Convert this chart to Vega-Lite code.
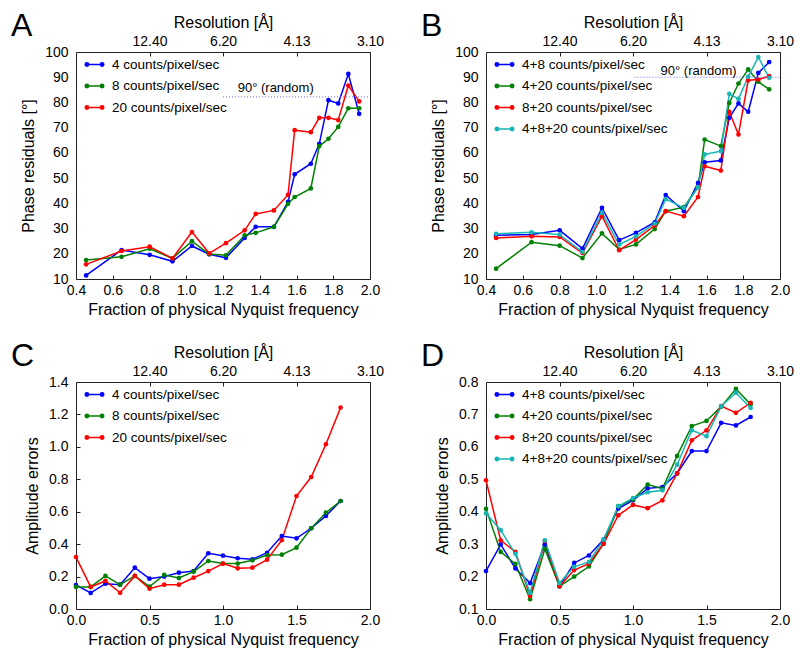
{
  "$schema": "https://vega.github.io/schema/vega-lite/v6.json",
  "padding": {"left": 10, "top": 9, "right": 5, "bottom": 5},
  "background": "white",
  "config": {
    "font": "Liberation Sans",
    "view": {"stroke": "#222", "strokeWidth": 1},
    "axis": {"grid": false, "domain": false, "labelFont": "Liberation Sans", "labelFontSize": 14, "labelColor": "#000", "titleFont": "Liberation Sans", "titleFontSize": 16, "titleFontWeight": "normal", "titleColor": "#000", "tickColor": "#222", "tickSize": -4, "labelPadding": 8, "labelFlush": false, "labelOverlap": false, "titlePadding": 4},
    "axisY": {"ticks": false, "labelPadding": 8, "titlePadding": 8},
    "legend": {"orient": "top-left", "offset": 2, "symbolOffset": 6, "padding": 0, "labelFont": "Liberation Sans", "labelFontSize": 13.5, "labelColor": "#000", "symbolSize": 361, "symbolStrokeWidth": 1.5, "rowPadding": 4.5, "labelOffset": 7, "symbolType": "M-1,0L1,0M-0.98,0A0.18,0.18,0,1,0,-0.62,0A0.18,0.18,0,1,0,-0.98,0ZM0.62,0A0.18,0.18,0,1,0,0.98,0A0.18,0.18,0,1,0,0.62,0Z"},
    "title": {"fontSize": 32, "fontWeight": "normal", "anchor": "start", "frame": "group", "dx": -65, "dy": 33, "offset": 0, "color": "#000", "font": "Liberation Sans"}
  },
  "resolve": {"scale": {"color": "independent"}, "legend": {"color": "independent"}},
  "datasets": {
    "A": [
      {"x": 0.455, "4 counts/pixel/sec": 11.4, "8 counts/pixel/sec": 17.5, "20 counts/pixel/sec": 15.8},
      {"x": 0.648, "4 counts/pixel/sec": 21.5, "8 counts/pixel/sec": 18.8, "20 counts/pixel/sec": 21.1},
      {"x": 0.801, "4 counts/pixel/sec": 19.6, "8 counts/pixel/sec": 22.0, "20 counts/pixel/sec": 22.8},
      {"x": 0.925, "4 counts/pixel/sec": 17.0, "8 counts/pixel/sec": 18.2, "20 counts/pixel/sec": 18.2},
      {"x": 1.031, "4 counts/pixel/sec": 23.1, "8 counts/pixel/sec": 25.0, "20 counts/pixel/sec": 28.6},
      {"x": 1.125, "4 counts/pixel/sec": 19.8, "8 counts/pixel/sec": 19.9, "20 counts/pixel/sec": 20.2},
      {"x": 1.216, "4 counts/pixel/sec": 18.4, "8 counts/pixel/sec": 19.4, "20 counts/pixel/sec": 24.2},
      {"x": 1.318, "4 counts/pixel/sec": 26.3, "8 counts/pixel/sec": 27.3, "20 counts/pixel/sec": 29.3},
      {"x": 1.378, "4 counts/pixel/sec": 30.7, "8 counts/pixel/sec": 28.3, "20 counts/pixel/sec": 35.8},
      {"x": 1.477, "4 counts/pixel/sec": 30.7, "8 counts/pixel/sec": 30.7, "20 counts/pixel/sec": 37.2},
      {"x": 1.554, "4 counts/pixel/sec": 40.6, "8 counts/pixel/sec": 39.8, "20 counts/pixel/sec": 43.4},
      {"x": 1.59, "4 counts/pixel/sec": 51.5, "8 counts/pixel/sec": 42.5, "20 counts/pixel/sec": 69.0},
      {"x": 1.678, "4 counts/pixel/sec": 55.7, "8 counts/pixel/sec": 45.9, "20 counts/pixel/sec": 68.2},
      {"x": 1.724, "4 counts/pixel/sec": 63.6, "8 counts/pixel/sec": 62.7, "20 counts/pixel/sec": 73.9},
      {"x": 1.774, "4 counts/pixel/sec": 80.9, "8 counts/pixel/sec": 65.6, "20 counts/pixel/sec": 73.9},
      {"x": 1.827, "4 counts/pixel/sec": 79.6, "8 counts/pixel/sec": 70.3, "20 counts/pixel/sec": 73.0},
      {"x": 1.882, "4 counts/pixel/sec": 91.3, "8 counts/pixel/sec": 77.7, "20 counts/pixel/sec": 86.7},
      {"x": 1.941, "4 counts/pixel/sec": 75.5, "8 counts/pixel/sec": 77.7, "20 counts/pixel/sec": 80.4}
    ],
    "B": [
      {"x": 0.455, "4+8 counts/pixel/sec": 27.3, "4+20 counts/pixel/sec": 14.1, "8+20 counts/pixel/sec": 26.3, "4+8+20 counts/pixel/sec": 27.9},
      {"x": 0.648, "4+8 counts/pixel/sec": 27.6, "4+20 counts/pixel/sec": 24.6, "8+20 counts/pixel/sec": 26.9, "4+8+20 counts/pixel/sec": 28.5},
      {"x": 0.801, "4+8 counts/pixel/sec": 29.3, "4+20 counts/pixel/sec": 23.2, "8+20 counts/pixel/sec": 26.7, "4+8+20 counts/pixel/sec": 27.6},
      {"x": 0.925, "4+8 counts/pixel/sec": 22.1, "4+20 counts/pixel/sec": 18.3, "8+20 counts/pixel/sec": 20.3, "4+8+20 counts/pixel/sec": 20.7},
      {"x": 1.031, "4+8 counts/pixel/sec": 38.2, "4+20 counts/pixel/sec": 28.1, "8+20 counts/pixel/sec": 34.9, "4+8+20 counts/pixel/sec": 36.2},
      {"x": 1.125, "4+8 counts/pixel/sec": 25.4, "4+20 counts/pixel/sec": 21.7, "8+20 counts/pixel/sec": 21.4, "4+8+20 counts/pixel/sec": 23.7},
      {"x": 1.216, "4+8 counts/pixel/sec": 28.3, "4+20 counts/pixel/sec": 23.7, "8+20 counts/pixel/sec": 25.6, "4+8+20 counts/pixel/sec": 26.9},
      {"x": 1.318, "4+8 counts/pixel/sec": 32.5, "4+20 counts/pixel/sec": 29.8, "8+20 counts/pixel/sec": 31.2, "4+8+20 counts/pixel/sec": 32.0},
      {"x": 1.378, "4+8 counts/pixel/sec": 43.3, "4+20 counts/pixel/sec": 36.9, "8+20 counts/pixel/sec": 36.9, "4+8+20 counts/pixel/sec": 41.7},
      {"x": 1.477, "4+8 counts/pixel/sec": 36.9, "4+20 counts/pixel/sec": 38.5, "8+20 counts/pixel/sec": 34.9, "4+8+20 counts/pixel/sec": 38.2},
      {"x": 1.554, "4+8 counts/pixel/sec": 48.1, "4+20 counts/pixel/sec": 46.4, "8+20 counts/pixel/sec": 42.5, "4+8+20 counts/pixel/sec": 46.4},
      {"x": 1.59, "4+8 counts/pixel/sec": 56.3, "4+20 counts/pixel/sec": 65.3, "8+20 counts/pixel/sec": 54.7, "4+8+20 counts/pixel/sec": 59.4},
      {"x": 1.678, "4+8 counts/pixel/sec": 57.0, "4+20 counts/pixel/sec": 62.7, "8+20 counts/pixel/sec": 53.0, "4+8+20 counts/pixel/sec": 60.7},
      {"x": 1.724, "4+8 counts/pixel/sec": 73.9, "4+20 counts/pixel/sec": 79.8, "8+20 counts/pixel/sec": 76.3, "4+8+20 counts/pixel/sec": 83.4},
      {"x": 1.774, "4+8 counts/pixel/sec": 79.6, "4+20 counts/pixel/sec": 87.5, "8+20 counts/pixel/sec": 67.3, "4+8+20 counts/pixel/sec": 81.4},
      {"x": 1.827, "4+8 counts/pixel/sec": 76.3, "4+20 counts/pixel/sec": 93.1, "8+20 counts/pixel/sec": 88.8, "4+8+20 counts/pixel/sec": 90.2},
      {"x": 1.882, "4+8 counts/pixel/sec": 91.7, "4+20 counts/pixel/sec": 88.2, "8+20 counts/pixel/sec": 89.1, "4+8+20 counts/pixel/sec": 98.0},
      {"x": 1.941, "4+8 counts/pixel/sec": 96.0, "4+20 counts/pixel/sec": 85.2, "8+20 counts/pixel/sec": 90.4, "4+8+20 counts/pixel/sec": 89.8}
    ],
    "C": [
      {"x": 0.0, "4 counts/pixel/sec": 0.148, "8 counts/pixel/sec": 0.136, "20 counts/pixel/sec": 0.32},
      {"x": 0.1, "4 counts/pixel/sec": 0.099, "8 counts/pixel/sec": 0.136, "20 counts/pixel/sec": 0.136},
      {"x": 0.2, "4 counts/pixel/sec": 0.156, "8 counts/pixel/sec": 0.204, "20 counts/pixel/sec": 0.173},
      {"x": 0.3, "4 counts/pixel/sec": 0.150, "8 counts/pixel/sec": 0.150, "20 counts/pixel/sec": 0.100},
      {"x": 0.4, "4 counts/pixel/sec": 0.255, "8 counts/pixel/sec": 0.204, "20 counts/pixel/sec": 0.204},
      {"x": 0.5, "4 counts/pixel/sec": 0.187, "8 counts/pixel/sec": 0.138, "20 counts/pixel/sec": 0.125},
      {"x": 0.6, "4 counts/pixel/sec": 0.200, "8 counts/pixel/sec": 0.210, "20 counts/pixel/sec": 0.150},
      {"x": 0.7, "4 counts/pixel/sec": 0.224, "8 counts/pixel/sec": 0.191, "20 counts/pixel/sec": 0.150},
      {"x": 0.8, "4 counts/pixel/sec": 0.234, "8 counts/pixel/sec": 0.230, "20 counts/pixel/sec": 0.193},
      {"x": 0.9, "4 counts/pixel/sec": 0.344, "8 counts/pixel/sec": 0.296, "20 counts/pixel/sec": 0.234},
      {"x": 1.0, "4 counts/pixel/sec": 0.329, "8 counts/pixel/sec": 0.280, "20 counts/pixel/sec": 0.280},
      {"x": 1.1, "4 counts/pixel/sec": 0.313, "8 counts/pixel/sec": 0.280, "20 counts/pixel/sec": 0.251},
      {"x": 1.2, "4 counts/pixel/sec": 0.307, "8 counts/pixel/sec": 0.300, "20 counts/pixel/sec": 0.255},
      {"x": 1.3, "4 counts/pixel/sec": 0.347, "8 counts/pixel/sec": 0.333, "20 counts/pixel/sec": 0.304},
      {"x": 1.4, "4 counts/pixel/sec": 0.450, "8 counts/pixel/sec": 0.335, "20 counts/pixel/sec": 0.424},
      {"x": 1.5, "4 counts/pixel/sec": 0.436, "8 counts/pixel/sec": 0.378, "20 counts/pixel/sec": 0.697},
      {"x": 1.6, "4 counts/pixel/sec": 0.498, "8 counts/pixel/sec": 0.498, "20 counts/pixel/sec": 0.814},
      {"x": 1.7, "4 counts/pixel/sec": 0.574, "8 counts/pixel/sec": 0.594, "20 counts/pixel/sec": 1.016},
      {"x": 1.8, "4 counts/pixel/sec": 0.666, "8 counts/pixel/sec": 0.666, "20 counts/pixel/sec": 1.242}
    ],
    "D": [
      {"x": 0.0, "4+8 counts/pixel/sec": 0.217, "4+20 counts/pixel/sec": 0.409, "8+20 counts/pixel/sec": 0.497, "4+8+20 counts/pixel/sec": 0.395},
      {"x": 0.1, "4+8 counts/pixel/sec": 0.299, "4+20 counts/pixel/sec": 0.276, "8+20 counts/pixel/sec": 0.312, "4+8+20 counts/pixel/sec": 0.343},
      {"x": 0.2, "4+8 counts/pixel/sec": 0.225, "4+20 counts/pixel/sec": 0.239, "8+20 counts/pixel/sec": 0.276, "4+8+20 counts/pixel/sec": 0.270},
      {"x": 0.3, "4+8 counts/pixel/sec": 0.180, "4+20 counts/pixel/sec": 0.130, "8+20 counts/pixel/sec": 0.140, "4+8+20 counts/pixel/sec": 0.150},
      {"x": 0.4, "4+8 counts/pixel/sec": 0.299, "4+20 counts/pixel/sec": 0.285, "8+20 counts/pixel/sec": 0.310, "4+8+20 counts/pixel/sec": 0.312},
      {"x": 0.5, "4+8 counts/pixel/sec": 0.170, "4+20 counts/pixel/sec": 0.170, "8+20 counts/pixel/sec": 0.170, "4+8+20 counts/pixel/sec": 0.180},
      {"x": 0.6, "4+8 counts/pixel/sec": 0.242, "4+20 counts/pixel/sec": 0.200, "8+20 counts/pixel/sec": 0.220, "4+8+20 counts/pixel/sec": 0.230},
      {"x": 0.7, "4+8 counts/pixel/sec": 0.265, "4+20 counts/pixel/sec": 0.231, "8+20 counts/pixel/sec": 0.240, "4+8+20 counts/pixel/sec": 0.245},
      {"x": 0.8, "4+8 counts/pixel/sec": 0.314, "4+20 counts/pixel/sec": 0.302, "8+20 counts/pixel/sec": 0.301, "4+8+20 counts/pixel/sec": 0.314},
      {"x": 0.9, "4+8 counts/pixel/sec": 0.410, "4+20 counts/pixel/sec": 0.417, "8+20 counts/pixel/sec": 0.389, "4+8+20 counts/pixel/sec": 0.417},
      {"x": 1.0, "4+8 counts/pixel/sec": 0.435, "4+20 counts/pixel/sec": 0.438, "8+20 counts/pixel/sec": 0.421, "4+8+20 counts/pixel/sec": 0.442},
      {"x": 1.1, "4+8 counts/pixel/sec": 0.472, "4+20 counts/pixel/sec": 0.484, "8+20 counts/pixel/sec": 0.411, "4+8+20 counts/pixel/sec": 0.460},
      {"x": 1.2, "4+8 counts/pixel/sec": 0.476, "4+20 counts/pixel/sec": 0.471, "8+20 counts/pixel/sec": 0.435, "4+8+20 counts/pixel/sec": 0.466},
      {"x": 1.3, "4+8 counts/pixel/sec": 0.518, "4+20 counts/pixel/sec": 0.572, "8+20 counts/pixel/sec": 0.518, "4+8+20 counts/pixel/sec": 0.545},
      {"x": 1.4, "4+8 counts/pixel/sec": 0.587, "4+20 counts/pixel/sec": 0.664, "8+20 counts/pixel/sec": 0.620, "4+8+20 counts/pixel/sec": 0.651},
      {"x": 1.5, "4+8 counts/pixel/sec": 0.587, "4+20 counts/pixel/sec": 0.680, "8+20 counts/pixel/sec": 0.651, "4+8+20 counts/pixel/sec": 0.633},
      {"x": 1.6, "4+8 counts/pixel/sec": 0.674, "4+20 counts/pixel/sec": 0.724, "8+20 counts/pixel/sec": 0.726, "4+8+20 counts/pixel/sec": 0.725},
      {"x": 1.7, "4+8 counts/pixel/sec": 0.666, "4+20 counts/pixel/sec": 0.779, "8+20 counts/pixel/sec": 0.705, "4+8+20 counts/pixel/sec": 0.767},
      {"x": 1.8, "4+8 counts/pixel/sec": 0.692, "4+20 counts/pixel/sec": 0.731, "8+20 counts/pixel/sec": 0.736, "4+8+20 counts/pixel/sec": 0.720}
    ]
  },
  "columns": 2,
  "spacing": {"row": 103, "column": 116},
  "bounds": "flush",
  "concat": [
    {
      "width": 294, "height": 227,
      "title": {"text": "A"},
      "resolve": {"scale": {"x": "independent"}, "axis": {"x": "independent"}},
      "layer": [
        {
          "layer": [
            {
              "data": {"name": "A"},
              "transform": [{"fold": ["4 counts/pixel/sec", "8 counts/pixel/sec", "20 counts/pixel/sec"], "as": ["s", "v"]}],
              "mark": {"type": "line", "strokeWidth": 1.5, "point": {"filled": true, "size": 22}},
              "encoding": {
                "x": {"field": "x", "type": "quantitative", "scale": {"domain": [0.4, 2.0], "nice": false, "zero": false}, "axis": {"values": [0.4, 0.6, 0.8, 1.0, 1.2, 1.4, 1.6, 1.8, 2.0], "format": ".1f", "labelOverlap": false, "title": "Fraction of physical Nyquist frequency"}},
                "y": {"field": "v", "type": "quantitative", "scale": {"domain": [10, 100], "nice": false, "zero": false}, "axis": {"values": [10, 20, 30, 40, 50, 60, 70, 80, 90, 100], "format": "d", "labelOverlap": false, "title": "Phase residuals [°]"}},
                "color": {"field": "s", "type": "nominal", "scale": {"domain": ["4 counts/pixel/sec", "8 counts/pixel/sec", "20 counts/pixel/sec"], "range": ["#0000ff", "#008000", "#ff0000"]},
                  "legend": {"title": null, "encode": {"symbols": {"update": {"fill": {"signal": "['#0000ff','#008000','#ff0000'][indexof(['4 counts/pixel/sec','8 counts/pixel/sec','20 counts/pixel/sec'], datum.value)]"}, "stroke": {"signal": "['#0000ff','#008000','#ff0000'][indexof(['4 counts/pixel/sec','8 counts/pixel/sec','20 counts/pixel/sec'], datum.value)]"}, "opacity": {"value": 1}}}}}}
              }
            },
            {
              "data": {"values": [{"x": 1.2, "x2": 2.0, "v": 82.2}]},
              "mark": {"type": "rule", "color": "#6b6bff", "strokeWidth": 1, "strokeDash": [1, 2]},
              "encoding": {
                "x": {"field": "x", "type": "quantitative", "axis": {"values": [0.4, 0.6, 0.8, 1.0, 1.2, 1.4, 1.6, 1.8, 2.0], "format": ".1f", "labelOverlap": false, "title": "Fraction of physical Nyquist frequency"}},
                "x2": {"field": "x2"},
                "y": {"field": "v", "type": "quantitative", "axis": {"values": [10, 20, 30, 40, 50, 60, 70, 80, 90, 100], "format": "d", "labelOverlap": false, "title": "Phase residuals [°]"}}
              }
            },
            {
              "data": {"values": [{"x": 1.28, "v": 85.8, "t": "90° (random)"}]},
              "mark": {"type": "text", "align": "left", "baseline": "middle", "fontSize": 13, "color": "#000"},
              "encoding": {
                "x": {"field": "x", "type": "quantitative", "axis": {"values": [0.4, 0.6, 0.8, 1.0, 1.2, 1.4, 1.6, 1.8, 2.0], "format": ".1f", "labelOverlap": false, "title": "Fraction of physical Nyquist frequency"}},
                "y": {"field": "v", "type": "quantitative", "axis": {"values": [10, 20, 30, 40, 50, 60, 70, 80, 90, 100], "format": "d", "labelOverlap": false, "title": "Phase residuals [°]"}},
                "text": {"field": "t"}
              }
            }
          ]
        },
        {
          "data": {"values": [{"t": 0}, {"t": 2}]},
          "mark": {"type": "rule", "opacity": 0},
          "encoding": {"x": {"field": "t", "type": "quantitative", "scale": {"domain": [0, 2], "nice": false}, "axis": {"orient": "top", "values": [0.5, 1, 1.5, 2], "labelOverlap": false, "labelExpr": "format(6.2/datum.value, '.2f')", "title": "Resolution [Å]"}}}
        }
      ]
    },
    {
      "width": 294, "height": 227,
      "title": {"text": "B"},
      "resolve": {"scale": {"x": "independent"}, "axis": {"x": "independent"}},
      "layer": [
        {
          "layer": [
            {
              "data": {"name": "B"},
              "transform": [{"fold": ["4+8 counts/pixel/sec", "4+20 counts/pixel/sec", "8+20 counts/pixel/sec", "4+8+20 counts/pixel/sec"], "as": ["s", "v"]}],
              "mark": {"type": "line", "strokeWidth": 1.5, "point": {"filled": true, "size": 22}},
              "encoding": {
                "x": {"field": "x", "type": "quantitative", "scale": {"domain": [0.4, 2.0], "nice": false, "zero": false}, "axis": {"values": [0.4, 0.6, 0.8, 1.0, 1.2, 1.4, 1.6, 1.8, 2.0], "format": ".1f", "labelOverlap": false, "title": "Fraction of physical Nyquist frequency"}},
                "y": {"field": "v", "type": "quantitative", "scale": {"domain": [10, 100], "nice": false, "zero": false}, "axis": {"values": [10, 20, 30, 40, 50, 60, 70, 80, 90, 100], "format": "d", "labelOverlap": false, "title": "Phase residuals [°]"}},
                "color": {"field": "s", "type": "nominal", "scale": {"domain": ["4+8 counts/pixel/sec", "4+20 counts/pixel/sec", "8+20 counts/pixel/sec", "4+8+20 counts/pixel/sec"], "range": ["#0000ff", "#008000", "#ff0000", "#17b5b5"]},
                  "legend": {"title": null, "encode": {"symbols": {"update": {"fill": {"signal": "['#0000ff','#008000','#ff0000','#17b5b5'][indexof(['4+8 counts/pixel/sec','4+20 counts/pixel/sec','8+20 counts/pixel/sec','4+8+20 counts/pixel/sec'], datum.value)]"}, "stroke": {"signal": "['#0000ff','#008000','#ff0000','#17b5b5'][indexof(['4+8 counts/pixel/sec','4+20 counts/pixel/sec','8+20 counts/pixel/sec','4+8+20 counts/pixel/sec'], datum.value)]"}, "opacity": {"value": 1}}}}}}
              }
            },
            {
              "data": {"values": [{"x": 1.208, "x2": 2.0, "v": 90}]},
              "mark": {"type": "rule", "color": "#6b6bff", "strokeWidth": 1, "strokeDash": [1, 2]},
              "encoding": {
                "x": {"field": "x", "type": "quantitative", "axis": {"values": [0.4, 0.6, 0.8, 1.0, 1.2, 1.4, 1.6, 1.8, 2.0], "format": ".1f", "labelOverlap": false, "title": "Fraction of physical Nyquist frequency"}},
                "x2": {"field": "x2"},
                "y": {"field": "v", "type": "quantitative", "axis": {"values": [10, 20, 30, 40, 50, 60, 70, 80, 90, 100], "format": "d", "labelOverlap": false, "title": "Phase residuals [°]"}}
              }
            },
            {
              "data": {"values": [{"x": 1.35, "v": 92.4, "t": "90° (random)"}]},
              "mark": {"type": "text", "align": "left", "baseline": "middle", "fontSize": 13, "color": "#000"},
              "encoding": {
                "x": {"field": "x", "type": "quantitative", "axis": {"values": [0.4, 0.6, 0.8, 1.0, 1.2, 1.4, 1.6, 1.8, 2.0], "format": ".1f", "labelOverlap": false, "title": "Fraction of physical Nyquist frequency"}},
                "y": {"field": "v", "type": "quantitative", "axis": {"values": [10, 20, 30, 40, 50, 60, 70, 80, 90, 100], "format": "d", "labelOverlap": false, "title": "Phase residuals [°]"}},
                "text": {"field": "t"}
              }
            }
          ]
        },
        {
          "data": {"values": [{"t": 0}, {"t": 2}]},
          "mark": {"type": "rule", "opacity": 0},
          "encoding": {"x": {"field": "t", "type": "quantitative", "scale": {"domain": [0, 2], "nice": false}, "axis": {"orient": "top", "values": [0.5, 1, 1.5, 2], "labelOverlap": false, "labelExpr": "format(6.2/datum.value, '.2f')", "title": "Resolution [Å]"}}}
        }
      ]
    },
    {
      "width": 294, "height": 227,
      "title": {"text": "C"},
      "resolve": {"scale": {"x": "independent"}, "axis": {"x": "independent"}},
      "layer": [
        {
          "data": {"name": "C"},
          "transform": [{"fold": ["4 counts/pixel/sec", "8 counts/pixel/sec", "20 counts/pixel/sec"], "as": ["s", "v"]}],
          "mark": {"type": "line", "strokeWidth": 1.5, "point": {"filled": true, "size": 22}},
          "encoding": {
            "x": {"field": "x", "type": "quantitative", "scale": {"domain": [0, 2.0], "nice": false, "zero": false}, "axis": {"values": [0, 0.5, 1.0, 1.5, 2.0], "format": ".1f", "labelOverlap": false, "title": "Fraction of physical Nyquist frequency"}},
            "y": {"field": "v", "type": "quantitative", "scale": {"domain": [0, 1.4], "nice": false, "zero": false}, "axis": {"values": [0, 0.2, 0.4, 0.6, 0.8, 1.0, 1.2, 1.4], "format": ".1f", "labelOverlap": false, "title": "Amplitude errors", "ticks": true, "tickSize": -4, "labelPadding": 12}},
            "color": {"field": "s", "type": "nominal", "scale": {"domain": ["4 counts/pixel/sec", "8 counts/pixel/sec", "20 counts/pixel/sec"], "range": ["#0000ff", "#008000", "#ff0000"]},
              "legend": {"title": null, "encode": {"symbols": {"update": {"fill": {"signal": "['#0000ff','#008000','#ff0000'][indexof(['4 counts/pixel/sec','8 counts/pixel/sec','20 counts/pixel/sec'], datum.value)]"}, "stroke": {"signal": "['#0000ff','#008000','#ff0000'][indexof(['4 counts/pixel/sec','8 counts/pixel/sec','20 counts/pixel/sec'], datum.value)]"}, "opacity": {"value": 1}}}}}}
          }
        },
        {
          "data": {"values": [{"t": 0}, {"t": 2}]},
          "mark": {"type": "rule", "opacity": 0},
          "encoding": {"x": {"field": "t", "type": "quantitative", "scale": {"domain": [0, 2], "nice": false}, "axis": {"orient": "top", "values": [0.5, 1, 1.5, 2], "labelOverlap": false, "labelExpr": "format(6.2/datum.value, '.2f')", "title": "Resolution [Å]"}}}
        }
      ]
    },
    {
      "width": 294, "height": 227,
      "title": {"text": "D"},
      "resolve": {"scale": {"x": "independent"}, "axis": {"x": "independent"}},
      "layer": [
        {
          "data": {"name": "D"},
          "transform": [{"fold": ["4+8 counts/pixel/sec", "4+20 counts/pixel/sec", "8+20 counts/pixel/sec", "4+8+20 counts/pixel/sec"], "as": ["s", "v"]}],
          "mark": {"type": "line", "strokeWidth": 1.5, "point": {"filled": true, "size": 22}},
          "encoding": {
            "x": {"field": "x", "type": "quantitative", "scale": {"domain": [0, 2.0], "nice": false, "zero": false}, "axis": {"values": [0, 0.5, 1.0, 1.5, 2.0], "format": ".1f", "labelOverlap": false, "title": "Fraction of physical Nyquist frequency"}},
            "y": {"field": "v", "type": "quantitative", "scale": {"domain": [0.1, 0.8], "nice": false, "zero": false}, "axis": {"values": [0.1, 0.2, 0.3, 0.4, 0.5, 0.6, 0.7, 0.8], "format": ".1f", "labelOverlap": false, "title": "Amplitude errors"}},
            "color": {"field": "s", "type": "nominal", "scale": {"domain": ["4+8 counts/pixel/sec", "4+20 counts/pixel/sec", "8+20 counts/pixel/sec", "4+8+20 counts/pixel/sec"], "range": ["#0000ff", "#008000", "#ff0000", "#17b5b5"]},
              "legend": {"title": null, "encode": {"symbols": {"update": {"fill": {"signal": "['#0000ff','#008000','#ff0000','#17b5b5'][indexof(['4+8 counts/pixel/sec','4+20 counts/pixel/sec','8+20 counts/pixel/sec','4+8+20 counts/pixel/sec'], datum.value)]"}, "stroke": {"signal": "['#0000ff','#008000','#ff0000','#17b5b5'][indexof(['4+8 counts/pixel/sec','4+20 counts/pixel/sec','8+20 counts/pixel/sec','4+8+20 counts/pixel/sec'], datum.value)]"}, "opacity": {"value": 1}}}}}}
          }
        },
        {
          "data": {"values": [{"t": 0}, {"t": 2}]},
          "mark": {"type": "rule", "opacity": 0},
          "encoding": {"x": {"field": "t", "type": "quantitative", "scale": {"domain": [0, 2], "nice": false}, "axis": {"orient": "top", "values": [0.5, 1, 1.5, 2], "labelOverlap": false, "labelExpr": "format(6.2/datum.value, '.2f')", "title": "Resolution [Å]"}}}
        }
      ]
    }
  ]
}
